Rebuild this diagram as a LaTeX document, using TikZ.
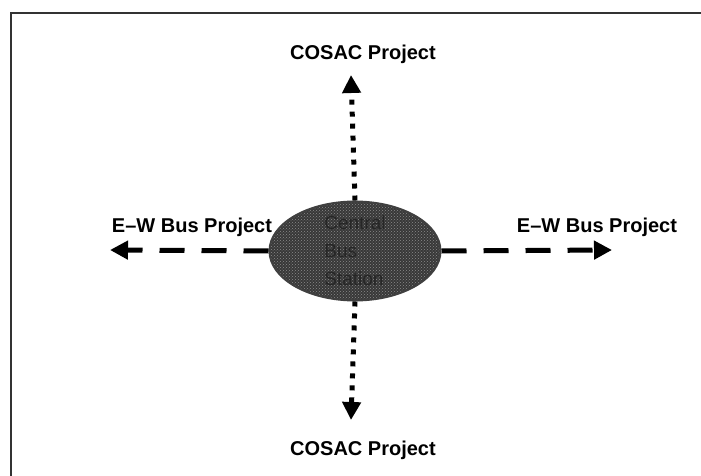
\documentclass[tikz,border=0pt]{standalone}
\usepackage{fontspec}
\setmainfont{Liberation Sans}
\usetikzlibrary{arrows.meta,patterns,positioning,shapes.geometric}

\begin{document}
\begin{tikzpicture}[
      x=1pt, y=-1pt,
      every node/.style = {font=\fontsize{20}{28}\selectfont\bfseries, inner sep=0pt},
      hub/.style        = {ellipse, draw=black!75, line width=2pt, fill=black!78,
                           preaction={fill=black!78},
                           pattern=crosshatch dots, pattern color=black!45,
                           minimum width=171pt, minimum height=95pt, align=left,
                           text=black!85, font=\fontsize{19}{28}\selectfont},
      project/.style    = {text=black},
      cosac/.style      = {line width=5pt, dash pattern=on 5pt off 7pt,
                           -{Triangle[length=18pt,width=18pt]}},
      buslink/.style    = {line width=5pt, dash pattern=on 25pt off 17pt,
                           -{Triangle[length=18pt,width=18pt]}}
    ]
    \useasboundingbox (0,0) rectangle (701,476);
    % frame (cut off at right and bottom)
    \draw[line width=2pt, black!80] (701,13) -- (11,13) -- (11,476);

    \node (hub) [hub] at (355,251) {Central\\Bus\\Station};

    \coordinate (northend) at (351,75);
    \coordinate (southend) at (351,420);
    \coordinate (westend)  at (110,250);
    \coordinate (eastend)  at (612,250);

    \node (cosacnorth) [project] at (363,54)  {COSAC Project};
    \node (cosacsouth) [project] at (363,450) {COSAC Project};
    \node (buswest)    [project] at (192,227) {E–W Bus Project};
    \node (buseast)    [project] at (597,227) {E–W Bus Project};

    \draw[cosac]   (hub.north) to (northend);
    \draw[cosac]   (hub.south) to (southend);
    \draw[buslink] (hub.west)  to (westend);
    \draw[buslink] (hub.east)  to (eastend);
  \end{tikzpicture}
\end{document}
